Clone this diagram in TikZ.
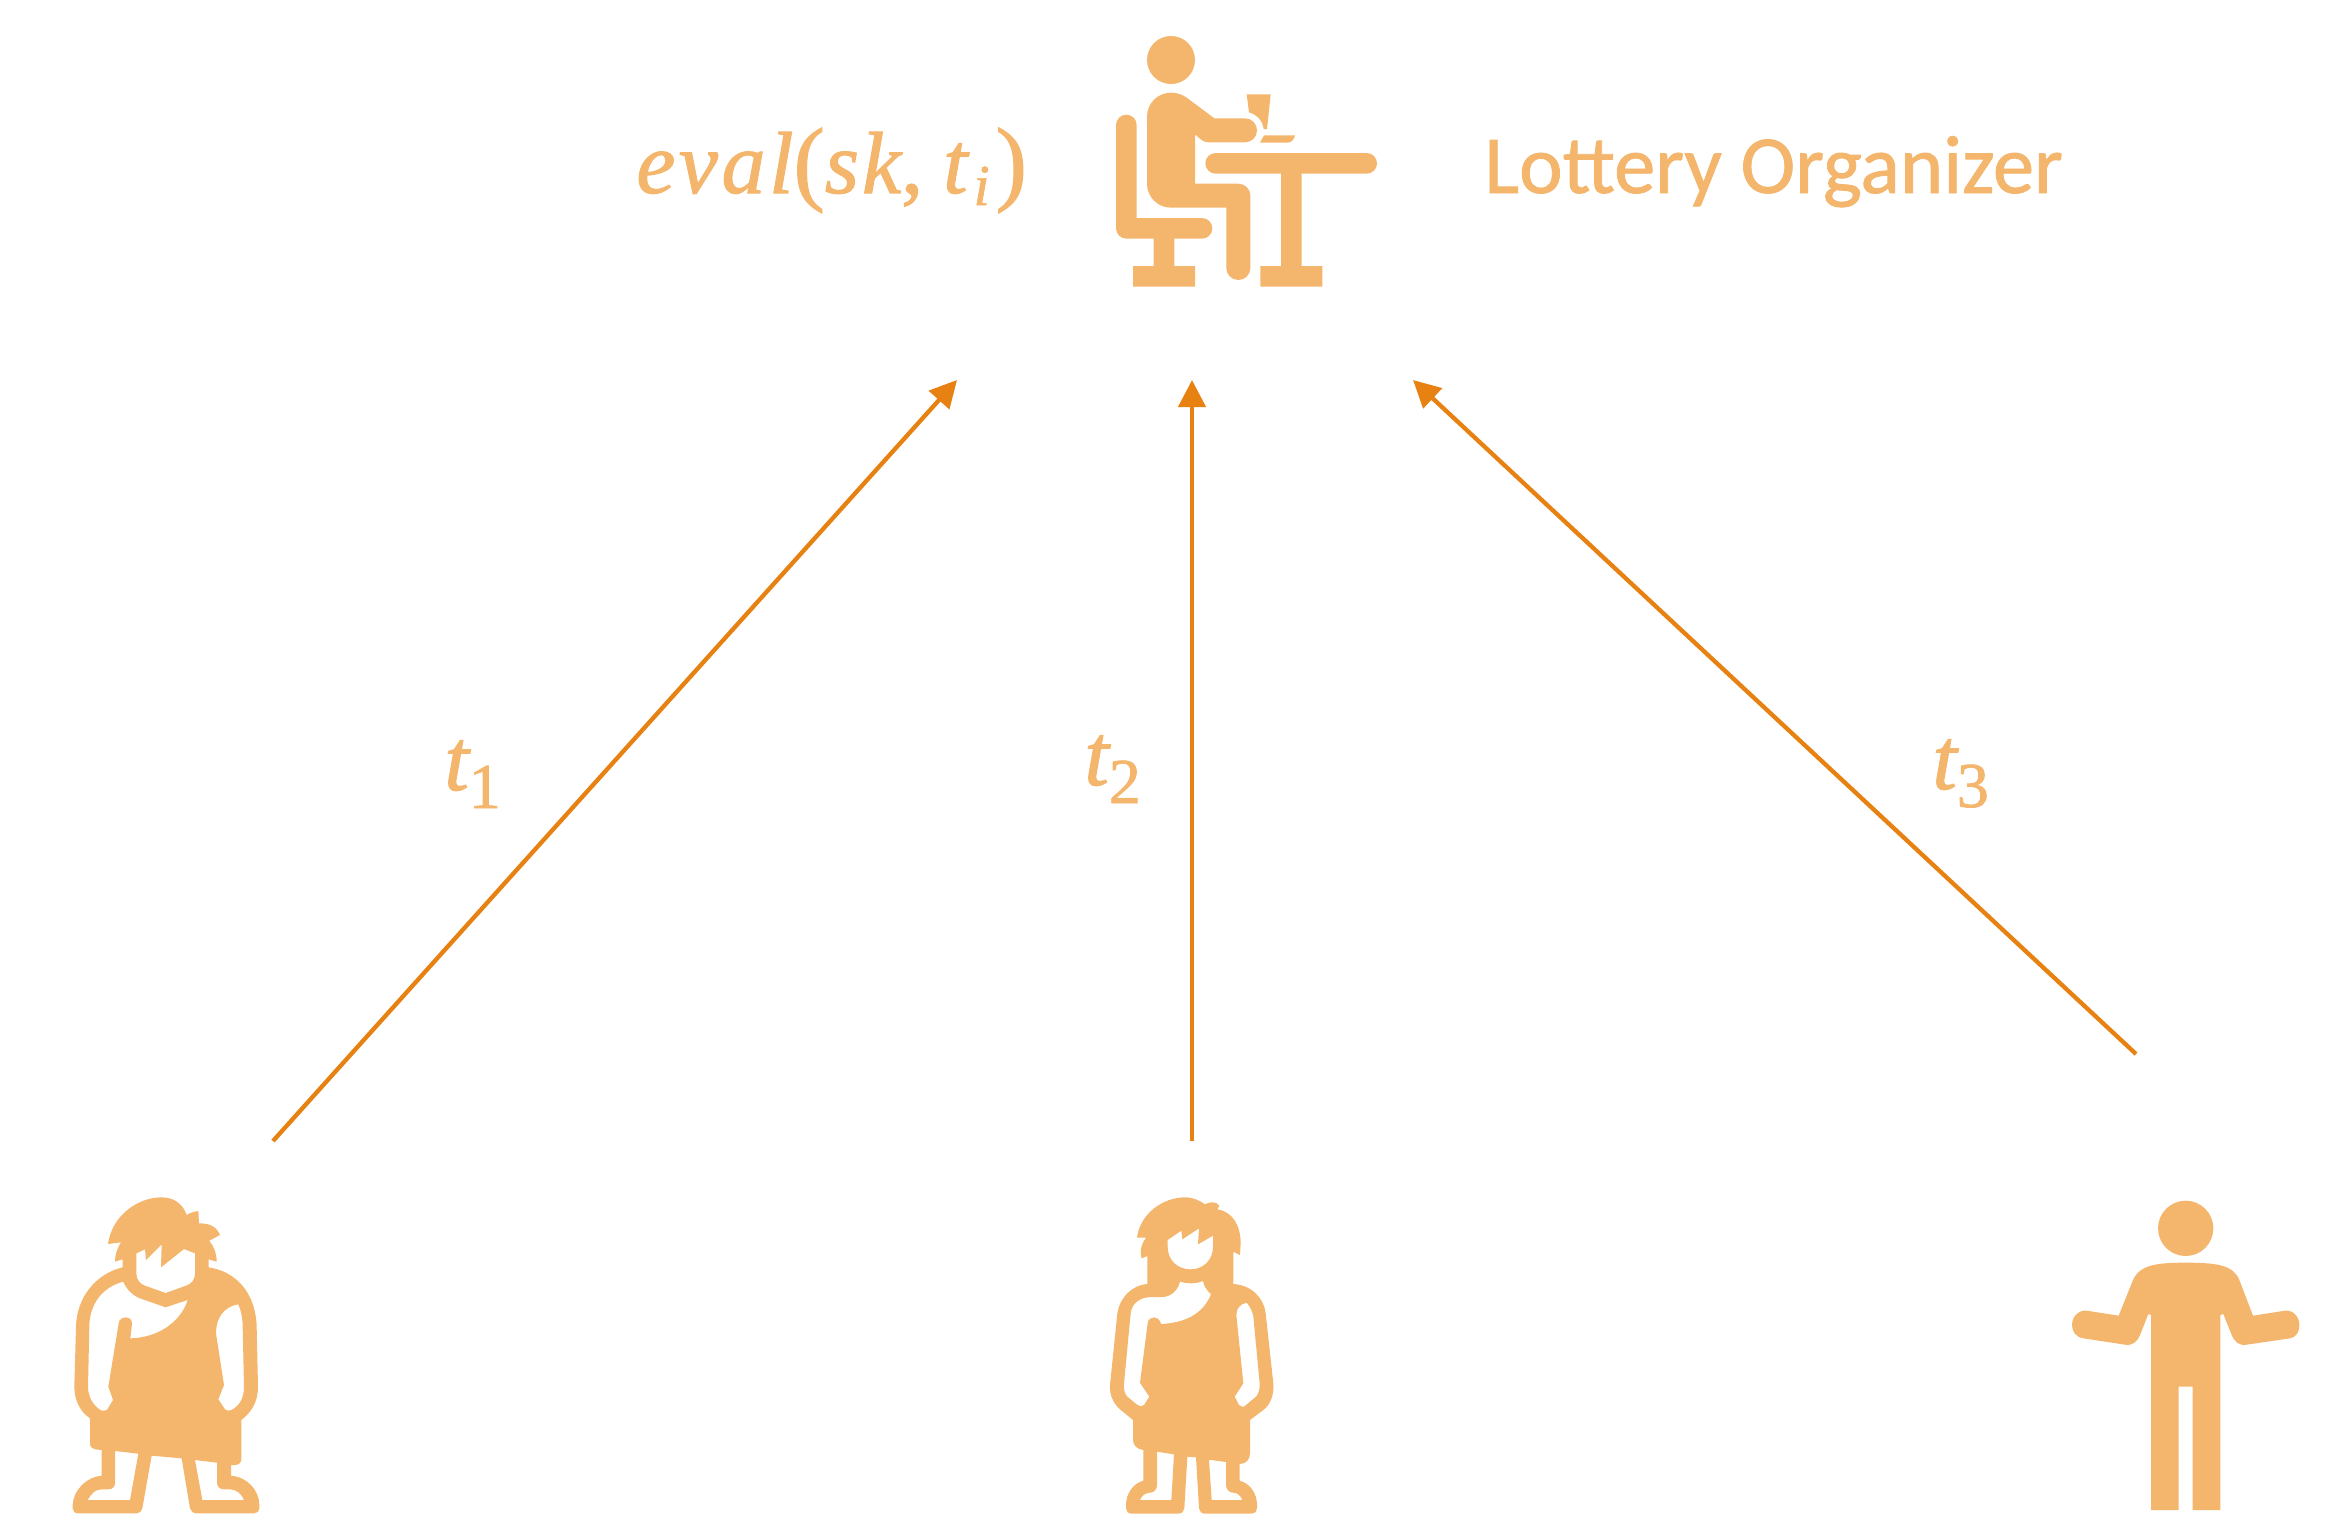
\documentclass[tikz,border=0pt]{standalone}
\usepackage{fontspec}
\usetikzlibrary{arrows.meta}
\setmainfont{Carlito}
\newfontfamily\orgfont[FakeBold=1]{Carlito}
\newfontfamily\evalit[FakeBold=1.2,LetterSpace=4]{Liberation Serif}
\newfontfamily\evalup[FakeBold=1.2]{Liberation Serif}
\definecolor{lightor}{RGB}{244,181,108}
\definecolor{darkor}{RGB}{231,130,18}
\newcommand{\evalsize}{\fontsize{44}{44}\selectfont}
\newcommand{\subsize}{\fontsize{32}{32}\selectfont}
\newcommand{\isize}{\fontsize{29}{29}\selectfont}
\newcommand{\parsize}{\fontsize{47}{47}\selectfont}
\tikzset{
 icon/.style={fill=lightor,draw=none},
 holed/.style={fill=lightor,draw=none,even odd rule},
 conn/.style={draw=darkor,line width=2.15pt,-{Triangle[length=13.5pt,width=13.5pt]}},
 mlabel/.style={text=lightor,inner sep=0pt,font=\evalit\itshape\evalsize},
 tlabel/.style={text=lightor,inner sep=0pt,font=\orgfont\fontsize{41.3}{41.3}\selectfont},
 zoomed/.style={x=0.16667pt,y=-0.16667pt}
}
\begin{document}
\begin{tikzpicture}[x=0.5pt,y=-0.5pt]
\useasboundingbox (0,0) rectangle (2351,1521);
% top icon
\begin{scope}[shift={(1080,0)},zoomed]
\fill[icon] (273,180) circle[radius=72];
\fill[icon] (201,350) .. controls (201,310) and (233,278) .. (273,278) .. controls (290,278) and (306,283) .. (320,293) -- (403,355) -- (495,355) .. controls (515,355) and (531,371) .. (531,391) .. controls (531,411) and (515,427) .. (495,427) -- (385,427) .. controls (370,427) and (358,415) .. (345,403) -- (345,551) -- (475,551) .. controls (495,551) and (511,567) .. (511,587) -- (511,804) .. controls (511,824) and (495,840) .. (475,840) .. controls (455,840) and (439,824) .. (439,804) -- (439,623) -- (273,623) .. controls (233,623) and (201,591) .. (201,551) -- cycle;
\fill[icon] (108,375) .. controls (108,358) and (122,344) .. (139,344) .. controls (156,344) and (170,358) .. (170,375) -- (170,654) -- (366,654) .. controls (383,654) and (397,668) .. (397,685) .. controls (397,702) and (383,716) .. (366,716) -- (283,716) -- (283,798) -- (345,798) -- (345,860) -- (159,860) -- (159,798) -- (221,798) -- (221,716) -- (139,716) .. controls (122,716) and (108,702) .. (108,685) -- cycle;
\fill[icon] (407,459) -- (860,459) .. controls (877,459) and (891,473) .. (891,490) .. controls (891,507) and (877,521) .. (860,521) -- (665,521) -- (665,798) -- (727,798) -- (727,860) -- (541,860) -- (541,798) -- (603,798) -- (603,521) -- (407,521) .. controls (390,521) and (376,507) .. (376,490) .. controls (376,473) and (390,459) .. (407,459) -- cycle;
\fill[icon] (500,283) -- (572,283) -- (561,387) -- (551,387) .. controls (548,362) and (530,343) .. (507,337) -- cycle;
\fill[icon] (552,406) -- (645,406) .. controls (642,419) and (634,428) .. (622,428) -- (540,428) -- cycle;
\end{scope}
% caveman
\begin{scope}[shift={(50,1170)},zoomed]
\fill[holed] (174,222) .. controls (185,140) and (260,82) .. (335,82) .. controls (375,82) and (400,105) .. (410,135) .. controls (420,128) and (432,125) .. (445,123) -- (447,160) .. controls (480,160) and (500,170) .. (510,195) -- (478,212) .. controls (492,230) and (500,250) .. (500,275) -- (476,268) -- (476,292) .. controls (560,305) and (617,370) .. (620,470) -- (624,650) .. controls (624,700) and (600,730) .. (574,750) -- (574,868) .. controls (574,878) and (565,885) .. (555,885) -- (543,885) -- (543,917) .. controls (590,920) and (628,960) .. (628,1005) -- (628,1015) .. controls (628,1024) and (621,1030) .. (612,1030) -- (440,1030) .. controls (430,1030) and (422,1024) .. (420,1015) -- (395,865) -- (305,857) -- (277,1015) .. controls (275,1024) and (268,1030) .. (260,1030) -- (85,1030) .. controls (75,1030) and (68,1024) .. (68,1015) -- (68,1005) .. controls (70,960) and (110,920) .. (155,917) -- (155,840) -- (135,838) .. controls (127,836) and (120,830) .. (120,820) -- (120,745) .. controls (90,725) and (73,690) .. (73,650) -- (78,470) .. controls (80,380) and (140,310) .. (218,292) -- (218,268) -- (195,275) .. controls (195,250) and (205,230) .. (213,217) -- cycle
(259,250) -- (285,238) -- (288,270) -- (335,223) -- (333,292) -- (402,237) -- (435,250) -- (435,310) .. controls (435,328) and (425,342) .. (408,347) -- (347,369) -- (285,347) .. controls (270,342) and (259,328) .. (259,310) -- cycle
(220,335) .. controls (160,350) and (118,400) .. (118,470) -- (114,650) .. controls (114,690) and (140,715) .. (155,722) .. controls (162,723) and (168,722) .. (172,718) -- (189,690) -- (175,650) -- (206,460) .. controls (208,436) and (248,436) .. (246,462) -- (241,505) .. controls (330,503) and (395,450) .. (413,390) -- (347,412) -- (270,385) .. controls (245,375) and (228,355) .. (220,335) -- cycle
(565,403) .. controls (520,410) and (498,445) .. (498,490) -- (522,645) -- (505,688) -- (525,718) .. controls (530,723) and (538,723) .. (545,720) .. controls (565,708) and (582,690) .. (582,650) -- (578,470) .. controls (578,440) and (572,420) .. (565,403) -- cycle
(195,843) -- (265,851) -- (240,990) -- (113,990) .. controls (125,970) and (135,958) .. (155,958) -- (175,958) .. controls (187,958) and (195,950) .. (195,940) -- cycle
(435,870) -- (501,878) -- (501,938) .. controls (501,950) and (510,958) .. (522,958) -- (540,958) .. controls (560,958) and (575,972) .. (582,990) -- (457,990) -- cycle;
\end{scope}
% woman
\begin{scope}[shift={(1090,1170)},zoomed]
\fill[holed] (141,203) .. controls (150,130) and (220,82) .. (285,82) .. controls (310,82) and (330,92) .. (345,103) .. controls (358,95) and (378,93) .. (388,107) -- (382,118) .. controls (430,125) and (452,170) .. (452,220) -- (450,255) -- (430,245) -- (430,342) .. controls (485,345) and (522,385) .. (527,430) -- (550,640) .. controls (553,675) and (540,705) .. (520,720) -- (480,750) -- (480,850) .. controls (480,868) and (468,882) .. (449,882) -- (449,932) .. controls (480,940) and (501,970) .. (501,1005) -- (501,1015) .. controls (501,1024) and (494,1031) .. (485,1031) -- (345,1031) .. controls (335,1031) and (328,1024) .. (327,1015) -- (318,862) -- (292,860) -- (283,1015) .. controls (282,1024) and (275,1031) .. (265,1031) -- (125,1031) .. controls (115,1031) and (108,1024) .. (108,1015) -- (108,1005) .. controls (108,970) and (130,940) .. (160,932) -- (160,840) .. controls (142,838) and (129,826) .. (129,810) -- (129,750) -- (90,718) .. controls (70,700) and (58,675) .. (60,645) -- (82,430) .. controls (88,385) and (125,345) .. (172,342) -- (172,258) -- (155,265) .. controls (148,240) and (155,220) .. (168,203) -- cycle
(233,210) -- (274,182) -- (277,208) -- (327,175) -- (324,223) -- (369,197) -- (369,230) .. controls (369,270) and (340,298) .. (301,298) .. controls (262,298) and (233,270) .. (233,230) -- cycle
(270,335) .. controls (262,365) and (240,381) .. (215,381) -- (185,381) .. controls (150,381) and (125,400) .. (122,430) -- (102,640) .. controls (100,660) and (105,672) .. (112,680) -- (140,703) .. controls (150,710) and (158,710) .. (162,705) -- (178,680) -- (150,638) -- (173,460) .. controls (175,436) and (208,436) .. (213,462) .. controls (300,458) and (345,420) .. (363,372) .. controls (350,362) and (342,348) .. (339,333) .. controls (315,342) and (295,342) .. (270,335) -- cycle
(470,398) .. controls (450,402) and (439,415) .. (439,435) -- (460,640) -- (434,680) -- (447,705) .. controls (452,712) and (462,712) .. (468,705) -- (498,680) .. controls (506,672) and (510,655) .. (509,640) -- (490,440) .. controls (488,425) and (480,410) .. (470,398) -- cycle
(201,845) -- (252,853) -- (244,990) -- (150,990) .. controls (156,975) and (168,968) .. (180,968) .. controls (192,968) and (201,958) .. (201,945) -- cycle
(357,869) -- (408,876) -- (408,945) .. controls (408,958) and (418,968) .. (430,968) .. controls (442,968) and (452,977) .. (457,990) -- (365,990) -- cycle;
\end{scope}
% shrugging person
\begin{scope}[shift={(2040,1170)},zoomed]
\fill[icon] (437,175) circle[radius=83];
\fill[icon] (437,278) .. controls (530,278) and (580,285) .. (598,330) -- (639,437) -- (735,422) .. controls (758,419) and (778,440) .. (778,464) .. controls (778,485) and (770,501) .. (750,505) -- (620,524) .. controls (597,528) and (583,515) .. (575,495) -- (550,432) -- (541,435) -- (541,1020) -- (458,1020) -- (458,650) -- (416,650) -- (416,1020) -- (333,1020) -- (333,435) -- (325,432) -- (300,495) .. controls (292,515) and (277,528) .. (255,524) -- (130,505) .. controls (107,501) and (96,485) .. (96,464) .. controls (96,440) and (117,419) .. (140,422) -- (236,437) -- (275,340) .. controls (293,285) and (345,278) .. (437,278) -- cycle;
\end{scope}
% anchors for the connectors
\coordinate (p1) at (273,1141);
\coordinate (p2) at (1192,1141);
\coordinate (p3) at (2136,1054);
\coordinate (a1) at (957,380);
\coordinate (a2) at (1192,380);
\coordinate (a3) at (1413,380);
\draw[conn] (p1) -- (a1);
\draw[conn] (p2) -- (a2);
\draw[conn] (p3) -- (a3);
\node[mlabel,anchor=base west] (ev) at (636,193) {eval{\evalup\upshape\parsize(}s\kern 1.5pt k{\evalup\upshape,\kern 10pt}t\kern 3pt\raisebox{-6pt}{\isize i}{\evalup\upshape\parsize\kern 3pt)}};
\node[tlabel,anchor=base west] (lo) at (1484,193) {Lottery Organizer};
\node[mlabel,anchor=base west] (t1) at (444,790) {t\raisebox{-9pt}{\evalup\upshape\subsize 1}};
\node[mlabel,anchor=base west] (t2) at (1084,785) {t\raisebox{-9pt}{\evalup\upshape\subsize 2}};
\node[mlabel,anchor=base west] (t3) at (1932,789) {t\raisebox{-9pt}{\evalup\upshape\subsize 3}};
\end{tikzpicture}
\end{document}
